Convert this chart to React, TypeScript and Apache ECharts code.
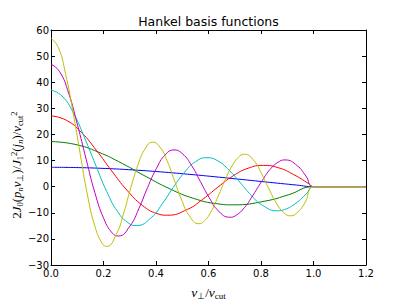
import React, { useEffect, useRef } from "react";
import * as echarts from "echarts";

// Values
const blueX = [0, 0.104, 0.208, 0.312, 0.416, 0.52, 0.624, 0.728, 0.832, 0.936, 1, 1.2];
const blueY = [7.42, 7.3, 6.96, 6.41, 5.68, 4.79, 3.8, 2.74, 1.66, 0.61, 0, 0];

const greenX = [0, 0.091, 0.181, 0.272, 0.362, 0.453, 0.543, 0.634, 0.694, 0.815, 0.906, 1, 1.2];
const greenY = [17.27, 16.21, 13.22, 8.84, 3.87, -0.84, -4.49, -6.56, -6.96, -5.54, -3.07, 0, 0];

const redX = [0, 0.058, 0.116, 0.173, 0.231, 0.289, 0.347, 0.404, 0.443, 0.52, 0.578, 0.636, 0.693, 0.751, 0.809, 0.867, 0.924, 0.982, 1, 1.2];
const redY = [27.13, 25.46, 20.76, 13.89, 6.07, -1.31, -7.06, -10.31, -10.93, -8.7, -4.82, -0.18, 4.09, 7.06, 8.14, 7.22, 4.66, 1.14, 0, 0];

const cyanX = [0, 0.042, 0.085, 0.127, 0.17, 0.212, 0.254, 0.297, 0.325, 0.382, 0.424, 0.466, 0.509, 0.551, 0.594, 0.636, 0.678, 0.721, 0.763, 0.806, 0.863, 0.89, 0.933, 0.975, 1, 1.2];
const cyanY = [37.0, 34.72, 28.31, 18.94, 8.28, -1.79, -9.62, -14.06, -14.9, -11.86, -6.57, -0.25, 5.57, 9.62, 11.1, 9.85, 6.35, 1.55, -3.34, -7.17, -9.24, -8.75, -6.33, -2.5, 0, 0];

const magentaX = [0, 0.033, 0.067, 0.1, 0.134, 0.167, 0.201, 0.234, 0.257, 0.301, 0.335, 0.368, 0.402, 0.435, 0.469, 0.502, 0.536, 0.569, 0.603, 0.636, 0.681, 0.703, 0.737, 0.77, 0.804, 0.837, 0.871, 0.892, 0.938, 0.971, 1, 1.2];
const magentaY = [46.9, 44.02, 35.89, 24.0, 10.5, -2.27, -12.2, -17.83, -18.89, -15.03, -8.33, -0.32, 7.06, 12.2, 14.07, 12.49, 8.05, 1.97, -4.24, -9.09, -11.71, -11.1, -8.03, -3.18, 2.24, 6.89, 9.7, 10.24, 8.02, 4.1, 0, 0];

const yellowX = [0, 0.028, 0.055, 0.083, 0.111, 0.138, 0.166, 0.194, 0.212, 0.249, 0.277, 0.304, 0.332, 0.36, 0.387, 0.415, 0.443, 0.47, 0.498, 0.526, 0.563, 0.581, 0.609, 0.636, 0.664, 0.692, 0.719, 0.737, 0.775, 0.802, 0.83, 0.858, 0.886, 0.913, 0.941, 0.969, 1, 1.2];
const yellowY = [56.8, 53.31, 43.46, 29.07, 12.72, -2.75, -14.77, -21.59, -22.88, -18.2, -10.09, -0.39, 8.55, 14.77, 17.05, 15.13, 9.75, 2.38, -5.13, -11.01, -14.18, -13.44, -9.72, -3.85, 2.71, 8.34, 11.75, 12.41, 9.72, 4.97, -0.81, -6.2, -9.93, -11.16, -9.65, -5.87, 0, 0];

const seriesList = [
  { name: "n1", color: "#0000ff", x: blueX, y: blueY },
  { name: "n2", color: "#008000", x: greenX, y: greenY },
  { name: "n3", color: "#ff0000", x: redX, y: redY },
  { name: "n4", color: "#00bfbf", x: cyanX, y: cyanY },
  { name: "n5", color: "#bf00bf", x: magentaX, y: magentaY },
  { name: "n6", color: "#bfbf00", x: yellowX, y: yellowY },
];

const titleText = "Hankel basis functions";
const xLabel = "{m|v}{su|\u22a5}{r|/}{m|v}{su|cut}";
const yLabel = "{r|2}{m|J}{su|0}{r|(}{m|p}{s|n}{m|v}{su|\u22a5}{r|)/}{m|J}{su|1}{p|2}{r|(}{m|j}{s|n}{r|)/}{m|v}{su|cut}{p|2}";

const mathRich = {
  m: { fontFamily: "Liberation Serif", fontStyle: "italic", fontSize: 13.5, lineHeight: 16, verticalAlign: "middle", color: "#000" },
  r: { fontFamily: "Liberation Serif", fontSize: 13.5, lineHeight: 16, verticalAlign: "middle", color: "#000" },
  s: { fontFamily: "Liberation Serif", fontStyle: "italic", fontSize: 9, lineHeight: 10, verticalAlign: "bottom", color: "#000" },
  su: { fontFamily: "Liberation Serif", fontSize: 9, lineHeight: 10, verticalAlign: "bottom", color: "#000" },
  p: { fontFamily: "Liberation Serif", fontSize: 9, lineHeight: 10, verticalAlign: "top", color: "#000" },
};

const yRich = {
  m: { ...mathRich.m, fontSize: 12.8, lineHeight: 15 },
  r: { ...mathRich.r, fontSize: 12.8, lineHeight: 15 },
  s: { ...mathRich.s, fontSize: 8.5 },
  su: { ...mathRich.su, fontSize: 8.5 },
  p: { ...mathRich.p, fontSize: 8.5 },
};

const tickFont = { fontFamily: "DejaVu Sans", fontSize: 10, color: "#000" };

export default function App() {
  const ref = useRef<HTMLDivElement>(null);
  useEffect(() => {
    document.body.style.margin = "0";
    if (!ref.current) return;
    const chart = echarts.init(ref.current, null, { renderer: "svg" });
    const fmtY = (v: number) => String(v).replace("-", "\u2212");
    const axisLine = { show: true, onZero: false, lineStyle: { color: "#000", width: 1 } };
    const tick = { show: true, inside: true, length: 4, lineStyle: { color: "#000" } };
    chart.setOption({
      animation: false,
      backgroundColor: "#fff",
      title: {
        text: titleText,
        left: 208.5,
        textAlign: "center",
        top: 15,
        padding: 0,
        textStyle: { fontFamily: "DejaVu Sans", fontSize: 12.5, fontWeight: "normal", color: "#000" },
      },
      grid: { left: 51, right: 41, top: 30, bottom: 31, containLabel: false },
      graphic: [
        {
          type: "text",
          x: 17,
          y: 165,
          rotation: Math.PI / 2,
          style: { text: yLabel, rich: yRich, align: "center", verticalAlign: "middle" },
        },
      ],
      xAxis: [
        {
          type: "value",
          min: 0,
          max: 1.2,
          interval: 0.2,
          axisLine,
          axisTick: tick,
          splitLine: { show: false },
          axisLabel: { ...tickFont, margin: 3, formatter: (v: number) => v.toFixed(1) },
          name: xLabel,
          nameLocation: "middle",
          nameGap: 19,
          nameTextStyle: { rich: mathRich },
        },
        {
          type: "value",
          position: "top",
          min: 0,
          max: 1.2,
          interval: 0.2,
          axisLine,
          axisTick: tick,
          splitLine: { show: false },
          axisLabel: { show: false },
        },
      ],
      yAxis: [
        {
          type: "value",
          min: -30,
          max: 60,
          interval: 10,
          axisLine,
          axisTick: tick,
          splitLine: { show: false },
          axisLabel: { ...tickFont, margin: 2, formatter: fmtY },
        },
        {
          type: "value",
          position: "right",
          min: -30,
          max: 60,
          interval: 10,
          axisLine,
          axisTick: tick,
          splitLine: { show: false },
          axisLabel: { show: false },
        },
      ],
      series: seriesList.map((s) => ({
        type: "line",
        name: s.name,
        xAxisIndex: 0,
        yAxisIndex: 0,
        showSymbol: false,
        smooth: true,
        lineStyle: { color: s.color, width: 1 },
        itemStyle: { color: s.color },
        data: s.x.map((x, i) => [x, s.y[i]]),
      })),
    });
    return () => chart.dispose();
  }, []);
  return <div ref={ref} style={{ width: 407, height: 305 }} />;
}
